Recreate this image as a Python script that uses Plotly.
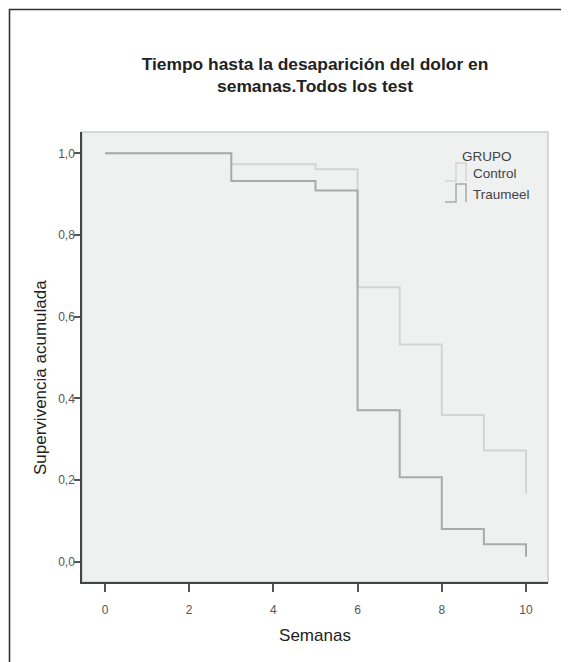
import plotly.graph_objects as go

# ---- data ----
weeks = [0, 3, 5, 6, 7, 8, 9, 10]
control_surv = [1.0, 0.973, 0.961, 0.672, 0.532, 0.359, 0.272, 0.167]
traumeel_surv = [1.0, 0.932, 0.909, 0.371, 0.207, 0.080, 0.043, 0.012]
group_names = ["Control", "Traumeel"]
x_tick_vals = [0, 2, 4, 6, 8, 10]
x_tick_text = ["0", "2", "4", "6", "8", "10"]
y_tick_vals = [0.0, 0.2, 0.4, 0.6, 0.8, 1.0]
y_tick_text = ["0,0", "0,2", "0,4", "0,6", "0,8", "1,0"]

# ---- layout in window pixels (page body has an 8px margin) ----
OFF = 8
W, H = 569, 662
PL, PR, PT, PB = 82, 548, 132, 582           # plot area in window px
ML, MR, MT, MB = PL - OFF, W - (PR - OFF), PT - OFF, H - (PB - OFF)
PW, PH = PR - PL, PB - PT
FONT = "Liberation Sans, Arial, sans-serif"
col_control = "#d3d4d4"
col_traumeel = "#a9aaaa"


def px(x):
    return (x - PL) / PW


def py(y):
    return (PB - y) / PH


fig = go.Figure()
fig.add_trace(go.Scatter(x=weeks, y=control_surv, mode="lines", line_shape="hv",
                         line=dict(color=col_control, width=2), name=group_names[0]))
fig.add_trace(go.Scatter(x=weeks, y=traumeel_surv, mode="lines", line_shape="hv",
                         line=dict(color=col_traumeel, width=2), name=group_names[1]))

shapes = [
    # outer frame of the figure (extends beyond the window)
    dict(type="rect", xref="paper", yref="paper", x0=px(9.5), y0=py(900), x1=px(900), y1=py(9.5),
         line=dict(color="#333333", width=1.6), fillcolor="rgba(0,0,0,0)", layer="below"),
    # light border of the plot area
    dict(type="rect", xref="paper", yref="paper", x0=0, y0=0, x1=1, y1=1,
         line=dict(color="#cdcdcd", width=1.5), fillcolor="rgba(0,0,0,0)", layer="below"),
]


def icon(x0, x1, x2, ytop, ybot, color):
    path = (f"M {px(x0)},{py(ybot)} L {px(x1)},{py(ybot)} L {px(x1)},{py(ytop)} "
            f"L {px(x2)},{py(ytop)} L {px(x2)},{py(ybot)}")
    return dict(type="path", xref="paper", yref="paper", path=path,
                line=dict(color=color, width=1.5))


shapes.append(icon(445, 456, 466, 163, 181, col_control))
shapes.append(icon(445, 456, 466, 184, 202, col_traumeel))

leg_font = dict(family=FONT, size=13.5, color="#444444")
annotations = [
    dict(text="GRUPO", xref="paper", yref="paper", x=px(487), y=py(156), showarrow=False,
         xanchor="center", yanchor="middle", font=leg_font),
    dict(text=group_names[0], xref="paper", yref="paper", x=px(471), y=py(173), showarrow=False,
         xanchor="left", yanchor="middle", font=leg_font),
    dict(text=group_names[1], xref="paper", yref="paper", x=px(471), y=py(194), showarrow=False,
         xanchor="left", yanchor="middle", font=leg_font),
    # y-axis title
    dict(text="Supervivencia acumulada", xref="paper", yref="paper", x=px(40), y=py(378),
         showarrow=False, textangle=-90, xanchor="center", yanchor="middle",
         font=dict(family=FONT, size=17, color="#222222")),
]

fig.update_layout(
    width=W, height=H,
    margin=dict(l=ML, r=MR, t=MT, b=MB, pad=0),
    paper_bgcolor="white",
    plot_bgcolor="#eff0f0",
    showlegend=False,
    title=dict(text="Tiempo hasta la desaparición del dolor en<br>semanas.Todos los test",
               x=0.5, xref="paper", xanchor="center",
               y=(H - (75.5 - OFF - 6)) / H, yref="container", yanchor="middle",
               font=dict(family=FONT, size=17.4, color="#222222", weight="bold")),
    shapes=shapes,
    annotations=annotations,
)

fig.update_xaxes(
    range=[(PL - 105) / 42.1, (PR - 105) / 42.1],
    tickvals=x_tick_vals, ticktext=x_tick_text,
    showgrid=False, zeroline=False,
    showline=True, linecolor="#444444", linewidth=1.5,
    ticks="outside", ticklen=8, tickwidth=1.5, tickcolor="#555555",
    tickfont=dict(family=FONT, size=12, color="#555555"),
    ticklabelstandoff=8,
    title=dict(text="Semanas", font=dict(family=FONT, size=17, color="#222222"), standoff=13),
)
fig.update_yaxes(
    range=[(561.7 - PB) / 408.4, (561.7 - PT) / 408.4],
    tickvals=y_tick_vals, ticktext=y_tick_text,
    showgrid=False, zeroline=False,
    showline=True, linecolor="#444444", linewidth=1.5,
    ticks="outside", ticklen=6, tickwidth=1.5, tickcolor="#555555",
    tickfont=dict(family=FONT, size=12, color="#555555"),
    ticklabelstandoff=-3,
)

fig.write_html("out.html")
